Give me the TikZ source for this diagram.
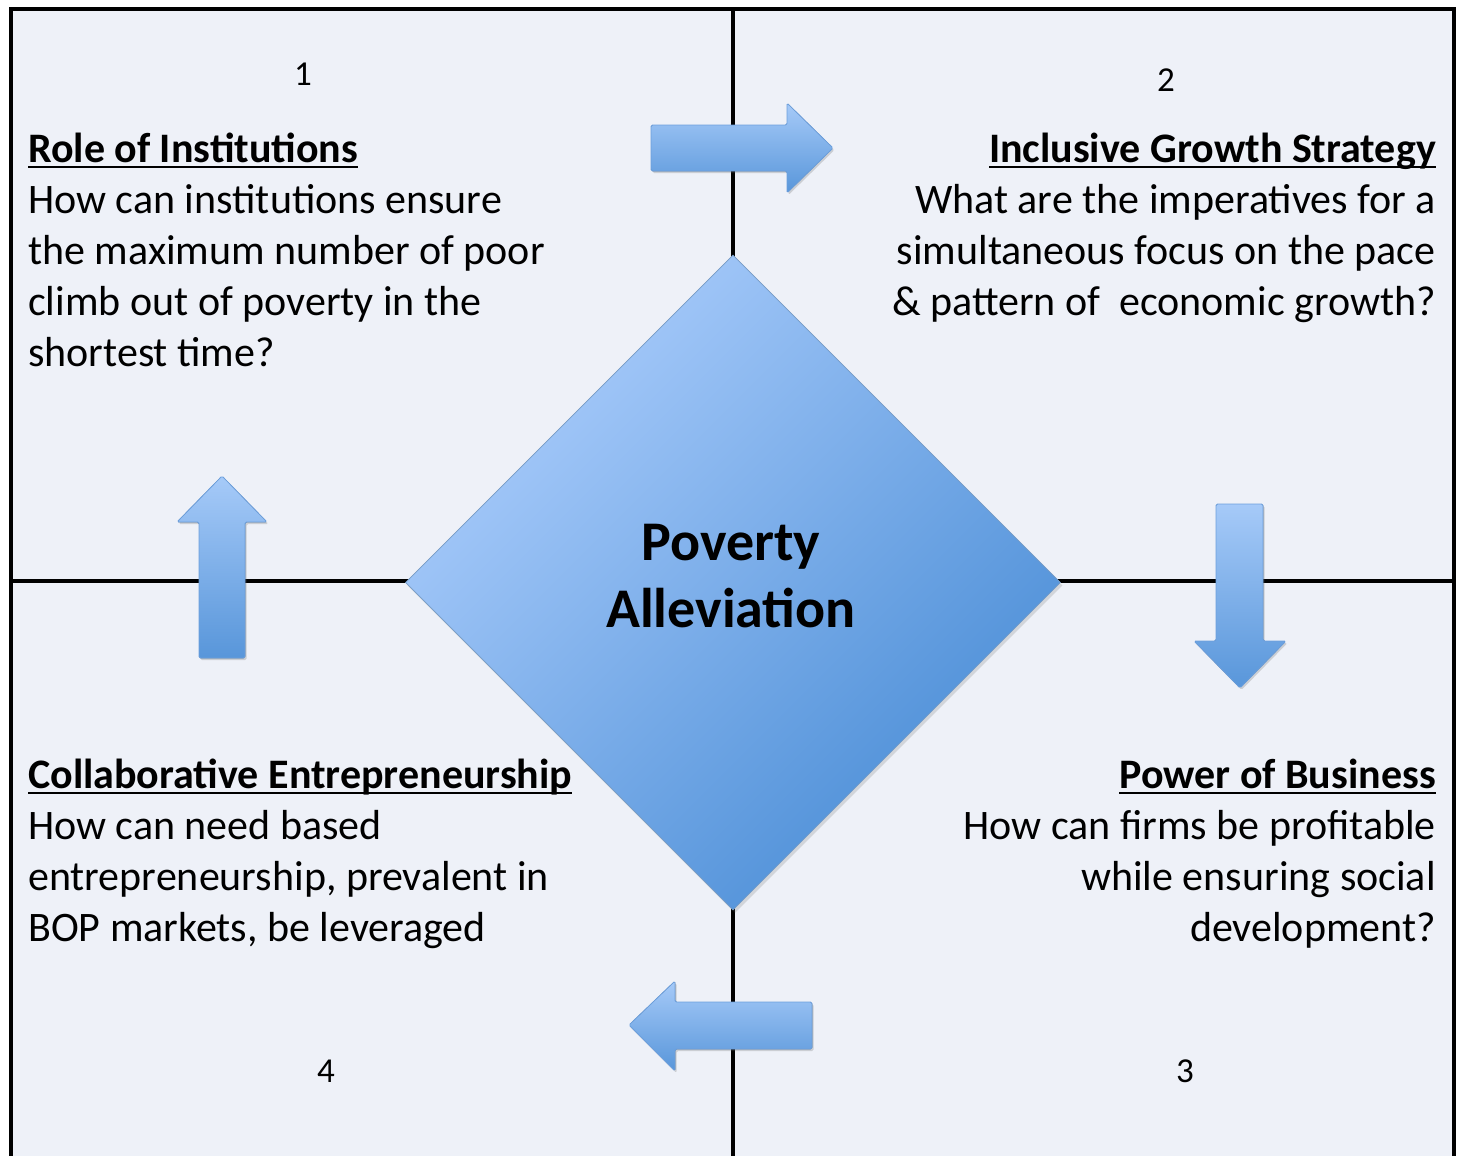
\documentclass[tikz,border=0pt]{standalone}
\usepackage{fontspec}
\setmainfont{Carlito}
\newcommand{\myul}[1]{\setbox0\hbox{#1}\rlap{\rule[-5.5pt]{\wd0}{1.8pt}}\box0}
\usetikzlibrary{shapes.geometric,shadows}
\definecolor{bgcol}{HTML}{EEF1F8}
\definecolor{dlight}{HTML}{ABCDFC}
\definecolor{ddark}{HTML}{4A8DD6}
\definecolor{alight}{HTML}{A6CAF8}
\definecolor{adark}{HTML}{5896DA}
\definecolor{aedge}{HTML}{6C9FDC}
\tikzset{
  frameline/.style={line width=4pt, black},
  blockarrow/.style={top color=alight, bottom color=adark, draw=aedge, line width=0.8pt, rounded corners=1.5pt,
    drop shadow={shadow xshift=1.5pt, shadow yshift=-2pt, opacity=0.25, fill=black!60}},
  bodytext/.style={font=\fontsize{42}{51}\selectfont, inner sep=0pt},
  numtext/.style={font=\fontsize{35}{40}\selectfont, inner sep=0pt},
}
\begin{document}
\begin{tikzpicture}[x=1pt,y=-1pt]
\useasboundingbox (0,0) rectangle (1457,1156);
\fill[white] (0,0) rectangle (1457,1156);
\fill[bgcol] (10.5,9.5) rectangle (1454,1160);
% dividers
\coordinate (vt) at (733,9.5);
\coordinate (vb) at (733,1160);
\coordinate (hl) at (10.5,581);
\coordinate (hr) at (1454,581);
\draw[frameline] (vt) -- (vb);
\draw[frameline] (hl) -- (hr);
\draw[frameline] (10.5,1160) -- (10.5,9.5) -- (1454,9.5) -- (1454,1160);
% diamond
\node[diamond, aspect=1, minimum width=655pt, minimum height=655pt, inner sep=0pt,
  top color=dlight, bottom color=ddark, shading angle=45, draw=ddark!80!black!70, line width=0.7pt,
  drop shadow={shadow xshift=2pt, shadow yshift=-3pt, opacity=0.2, fill=black!60}] (dia) at (733,582.5) {};
\node[font=\bfseries\fontsize{56}{67}\selectfont, align=center, inner sep=0pt] (title) at (731,576) {Poverty\\Alleviation};
% arrows
\fill[blockarrow] (651,125) -- (787,125) -- (787,103) -- (833,148) -- (787,193) -- (787,171) -- (651,171) -- cycle;
\fill[blockarrow] (1216,504) -- (1263,504) -- (1263,641) -- (1286,641) -- (1240,688) -- (1194,641) -- (1216,641) -- cycle;
\fill[blockarrow] (812,1002) -- (675,1002) -- (675,981) -- (629,1025) -- (675,1071) -- (675,1049) -- (812,1049) -- cycle;
\fill[blockarrow] (199,658) -- (199,522) -- (177,522) -- (222,476) -- (267,522) -- (245,522) -- (245,658) -- cycle;
% numbers
\node[numtext] (n1) at (303,74) {1};
\node[numtext] (n2) at (1166,80) {2};
\node[numtext] (n3) at (1185,1071) {3};
\node[numtext] (n4) at (326,1071) {4};
% texts (base anchor = baseline of last line)
\node[bodytext, anchor=base west, align=left] (t1) at (28,366)
  {\myul{\textbf{Role of Institutions}}\\How can institutions ensure\\the maximum number of poor\\climb out of poverty in the\\shortest time?};
\node[bodytext, anchor=base east, align=right] (t2) at (1436,315)
  {\myul{\textbf{Inclusive Growth Strategy}}\\What are the imperatives for a\\simultaneous focus on the pace\\\& pattern of \ economic growth?};
\node[bodytext, anchor=base east, align=right] (t3) at (1436,941)
  {\myul{\textbf{Power of Business}}\\How can firms be profitable\\while ensuring social\\development?};
\node[bodytext, anchor=base west, align=left] (t4) at (28,941)
  {\myul{\textbf{Collaborative Entrepreneurship}}\\How can need based\\entrepreneurship, prevalent in\\BOP markets, be leveraged};
\end{tikzpicture}
\end{document}
